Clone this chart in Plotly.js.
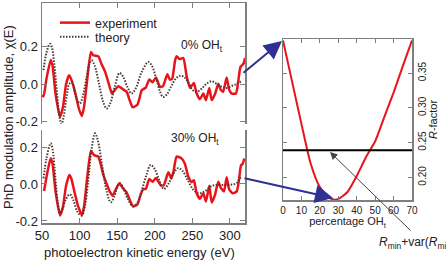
<!DOCTYPE html>
<html><head><meta charset="utf-8">
<script src="https://cdn.plot.ly/plotly-3.0.1.min.js"></script>
<style>html,body{margin:0;padding:0;background:#fff}#chart{width:446px;height:265px}</style>
</head><body><div id="chart"></div>
<script>
// ---- data: 0% OH_t panel ----
const exp0E = [50,52,56,61.5,64,68,74,78,82,86,88,91.5,95,99,103,106,110,115,118,122,125,129,134,139,143,147,151.5,157,162.6,167,170.6,176.8,180,182.6,188,192.7,197,201.6,207,211,216.7,220,223,227,229,233,238,242.5,247,252,255.7,260,264.6,268,272.5,275.7,280,284.5,287.7,291,295.6,299,302.3,308,311,314,318,320];
const exp0V = [-0.06,-0.065,0.03,0.13,0.1,-0.05,-0.175,-0.12,0.0,0.048,0.035,-0.005,-0.06,-0.13,-0.17,-0.12,0.02,0.172,0.155,0.152,0.149,0.11,0.066,0.0,-0.05,-0.03,-0.011,-0.025,-0.041,-0.09,-0.124,-0.11,-0.07,-0.032,-0.018,0.025,0.01,0.036,-0.015,-0.01,0.053,0.025,0.028,0.128,0.15,0.135,0.14,0.04,-0.02,0.007,-0.05,-0.08,-0.05,-0.085,-0.02,-0.085,-0.054,0.002,-0.03,-0.04,0.036,-0.03,-0.05,-0.05,0.015,0.093,0.11,0.14];
const th0E = [52,56,60.6,63,66,70,73,76,79,83,86,89.5,93,97,100.5,104,109,113,116,120,126,131,136,141,147,153,158,163,169,175,182,191.4,196,202,207,211,216,222,228,234,240,246,250,255.7,262,268,275.7,283,290,296,302,308,312,316];
const th0V = [0.075,0.17,0.217,0.2,0.12,-0.05,-0.17,-0.213,-0.17,-0.06,0.0,0.012,-0.03,-0.085,-0.103,-0.07,0.03,0.11,0.128,0.1,0.0,-0.09,-0.13,-0.1,-0.01,0.06,0.04,-0.01,-0.05,-0.02,0.06,0.119,0.1,0.03,-0.04,-0.068,-0.055,-0.01,0.03,0.046,0.035,0.0,-0.03,-0.04,-0.025,0.0,0.016,0.0,-0.015,-0.02,-0.01,0.0,0.01,0.015];
// ---- data: 30% OH_t panel ----
const exp30E = [52.7,57,61.5,64,68,74,78,82,86.4,89,93,98,103,106,110,115,119,122,125,131.6,136,140,144,148,152.8,157,162.6,167,171.4,177,181,184.7,188,192.7,197,201.6,208,212,218,222,225,229,235,240,244.6,249,252,255.7,260,264.6,268,272.5,275.7,280,284.5,287.7,292,295.6,299,303.7,309,312,314.6,317,319];
const exp30V = [-0.038,0.06,0.139,0.11,-0.04,-0.171,-0.12,-0.01,0.049,0.03,-0.04,-0.12,-0.168,-0.12,0.03,0.178,0.157,0.152,0.148,0.049,0.0,-0.04,-0.063,-0.03,0.004,-0.02,-0.045,-0.09,-0.122,-0.11,-0.06,-0.027,-0.027,0.027,0.012,0.032,-0.007,-0.007,0.063,0.03,0.07,0.148,0.14,0.11,0.04,0.01,0.02,-0.05,-0.08,-0.05,-0.095,-0.01,-0.1,-0.06,0.012,-0.02,-0.04,0.036,-0.03,-0.05,-0.04,0.023,0.1,0.11,0.138];
const th30E = [52,56,61.5,64,68,71,74,77,81,87,92,97,103,107,111,116,120.5,124,130,136,141.4,146,150,153.7,158,164,171,177,183,189,194.5,200,206,212,218,224,231,237,244,251,258,264,270,276,283,291,298,304,309,313,316];
const th30V = [0.03,0.14,0.22,0.19,0.02,-0.1,-0.158,-0.14,-0.09,-0.056,-0.09,-0.15,-0.171,-0.12,0.0,0.19,0.274,0.24,0.1,-0.04,-0.099,-0.07,-0.02,0.004,-0.02,-0.08,-0.12,-0.1,-0.03,0.05,0.103,0.08,0.02,-0.027,0.0,0.05,0.085,0.07,0.02,-0.03,-0.05,-0.045,-0.03,-0.01,-0.005,-0.005,-0.005,-0.002,0.005,0.03,0.04];
// ---- data: R-factor vs percentage ----
const pctOH = [0,5,10,15,20,25,28,30,35,40,45,50,55,60,65,70];
const rFactor = [0.397,0.337,0.277,0.220,0.186,0.171,0.168,0.169,0.179,0.202,0.229,0.252,0.287,0.322,0.360,0.397];
const rVarLevel = 0.239;
const xTicksE = [50,100,150,200,250,300];
const yTicksChi = [-0.2,0.0,0.2];
const yTickChiText = ['-0.2','0.0','0.2'];

const RED = '#e8141c', TH = '#4a3a32', AX = '#7f7f7f', BLUE = '#2e3192';
const FONT = 'Liberation Sans, Arial, sans-serif';
const W = 446, H = 265;
const px = x => x / W, py = y => 1 - y / H;
const THDASH = '1.5px,1.5px';

const traces = [
  {x: exp0E, y: exp0V, xaxis:'x', yaxis:'y', mode:'lines', name:'experiment', legend:'legend', line:{color:RED, width:2.5, shape:'spline', smoothing:0.5}},
  {x: th0E, y: th0V, xaxis:'x', yaxis:'y', mode:'lines', name:'theory', legend:'legend2', line:{color:TH, width:2, dash:THDASH, shape:'spline'}},
  {x: exp30E, y: exp30V, xaxis:'x2', yaxis:'y2', mode:'lines', showlegend:false, line:{color:RED, width:2.5, shape:'spline', smoothing:0.5}},
  {x: th30E, y: th30V, xaxis:'x2', yaxis:'y2', mode:'lines', showlegend:false, line:{color:TH, width:2, dash:THDASH, shape:'spline'}},
  {x: pctOH, y: rFactor, xaxis:'x3', yaxis:'y3', mode:'lines', showlegend:false, line:{color:RED, width:2, shape:'spline', smoothing:0.6}},
  {x: [pctOH[0], pctOH[pctOH.length-1]], y: [rVarLevel, rVarLevel], xaxis:'x3', yaxis:'y3', mode:'lines', showlegend:false, line:{color:'#000', width:2}}
];

const chiY = (dom, rng) => ({domain: dom, range: rng, tickvals: yTicksChi, ticktext: yTickChiText, ticks:'inside', ticklen:5, tickcolor:AX,
  showline:true, linecolor:AX, linewidth:1.5, mirror:'ticks', zeroline:false, showgrid:false, tickfont:{size:13, color:'#222', family:FONT}});
const legendBox = (yTop) => ({x:px(55), y:py(yTop), xanchor:'left', yanchor:'middle', bgcolor:'rgba(0,0,0,0)', borderwidth:0,
  font:{size:12.5, family:FONT, color:'#222'}});
const ann = (x, y, text, extra) => Object.assign({xref:'paper', yref:'paper', x:px(x), y:py(y), text:text, showarrow:false,
  xanchor:'center', yanchor:'middle', font:{size:12, family:FONT, color:'#222'}}, extra || {});

const layout = {
  width: W, height: H, margin:{l:0,r:0,t:0,b:0}, paper_bgcolor:'#fff', plot_bgcolor:'rgba(0,0,0,0)',
  font:{family:FONT, color:'#222'},
  showlegend:true,
  legend: legendBox(23),
  legend2: legendBox(37),
  xaxis:{domain:[px(42),px(245)], range:[50,320], anchor:'y', side:'top', tickvals:xTicksE, ticks:'inside', ticklen:5, tickcolor:AX,
    showticklabels:false, showline:true, linecolor:AX, linewidth:1.5, zeroline:false, showgrid:false},
  yaxis: chiY([py(124), py(3)], [-0.213, 0.435]),
  xaxis2:{domain:[px(42),px(245)], range:[50,320], anchor:'y2', tickvals:xTicksE, ticks:'inside', ticklen:5, tickcolor:AX,
    showline:true, linecolor:AX, linewidth:1.5, zeroline:false, showgrid:false, tickfont:{size:13, color:'#222', family:FONT}},
  yaxis2: chiY([py(223), py(130)], [-0.211, 0.292]),
  xaxis3:{domain:[px(283),px(412)], range:[0,70], anchor:'y3', dtick:10, ticks:'inside', ticklen:4, tickcolor:AX,
    showline:true, linecolor:AX, linewidth:1.5, mirror:'ticks', zeroline:false, showgrid:false, tickfont:{size:10, color:'#222', family:FONT},
    title:{text:'percentage OH<sub>t</sub>', font:{size:11, family:FONT, color:'#222'}, standoff:2}},
  yaxis3:{domain:[py(200),py(39)], range:[0.1675, 0.399], anchor:'x3', side:'right', tickvals:[0.20,0.25,0.30,0.35], ticktext:['0.20','0.25','0.30','0.35'],
    tickangle:-90, ticks:'inside', ticklen:4, tickcolor:AX, showline:true, linecolor:AX, linewidth:1.5, mirror:'ticks', zeroline:false, showgrid:false,
    tickfont:{size:10, color:'#222', family:FONT}, title:{text:'<i>R</i>-factor', font:{size:11, family:FONT, color:'#222'}, standoff:2}},
  annotations:[
    ann(8, 117, 'PhD modulation amplitude, χ(E)', {textangle:-90, font:{size:13, family:FONT, color:'#222'}}),
    ann(139, 252, 'photoelectron kinetic energy (eV)', {font:{size:13, family:FONT, color:'#222'}}),
    ann(202, 46, '0% OH<sub>t</sub>'),
    ann(195, 139, '30% OH<sub>t</sub>'),
    ann(377, 243, '<i>R</i><sub>min</sub>+var(<i>R</i><sub>min</sub>)', {xanchor:'left'}),
    {xref:'paper', yref:'paper', x:px(282), y:py(41), ax:-40, ay:33, text:'', showarrow:true, arrowhead:2, arrowsize:1.8, arrowwidth:2, arrowcolor:BLUE},
    {xref:'paper', yref:'paper', x:px(333), y:py(198), ax:-90, ay:-20, text:'', showarrow:true, arrowhead:2, arrowsize:1.8, arrowwidth:2, arrowcolor:BLUE},
    {xref:'paper', yref:'paper', x:px(330), y:py(152), ax:82, ay:80, text:'', showarrow:true, arrowhead:2, arrowsize:1.5, arrowwidth:1, arrowcolor:'#444'}
  ]
};
Plotly.newPlot('chart', traces, layout, {staticPlot:true, displayModeBar:false});
</script></body></html>
